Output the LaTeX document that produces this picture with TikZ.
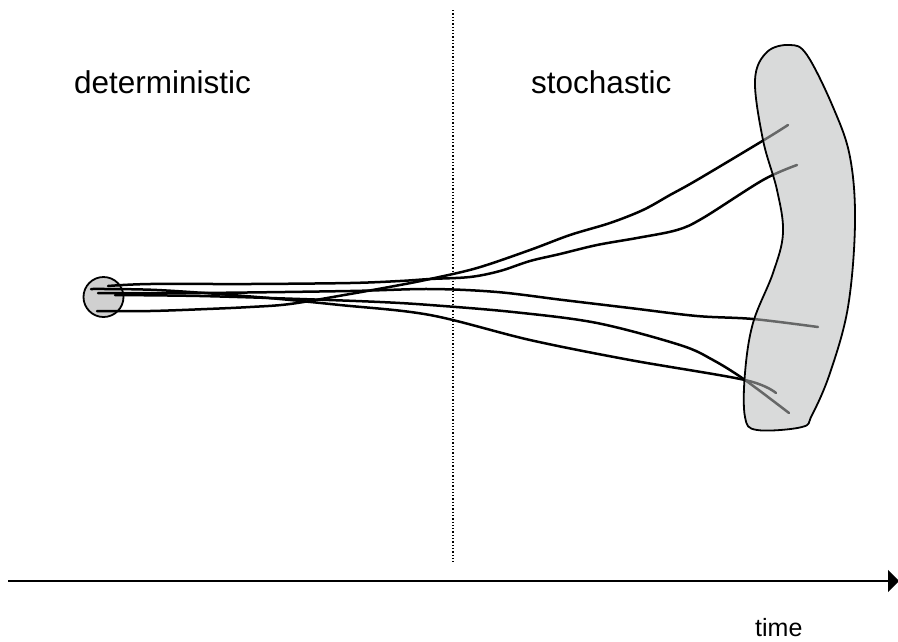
\documentclass[tikz,border=0pt]{standalone}
\usepackage{fontspec}
\setmainfont{Liberation Sans}
\usetikzlibrary{arrows.meta}
\definecolor{startfill}{RGB}{208,208,208}
\definecolor{regionfill}{RGB}{186,188,188}
\tikzset{
  label/.style={inner sep=0pt, anchor=base west, font=\fontsize{31.5}{36}\selectfont},
  trajectory/.style={line width=2.5pt, line join=round, line cap=round},
  outline/.style={line width=1.8pt, draw=black},
}
\begin{document}
\begin{tikzpicture}[x=1pt, y=-1pt]
  \useasboundingbox (0,0) rectangle (898,641);

  % regime boundary
  \draw[line width=1.3pt, dotted] (453,10) -- (453,562);

  % regime labels
  \node[label] (det) at (74,93) {deterministic};
  \node[label] (sto) at (531,93) {stochastic};

  % initial condition
  \node[circle, outline, fill=startfill, minimum size=40pt, inner sep=0pt] (start) at (103.5,297) {};

  % sample trajectories
  \draw[trajectory] plot[smooth, tension=0.55] coordinates {
    (97,311) (150,311) (207,309) (250,307) (290,304) (350,294) (400,285) (430,279)
    (477,268) (530,250) (570,235) (610,223) (643,210) (670,195) (697,180) (764,140) (788,125)};
  \draw[trajectory] plot[smooth, tension=0.55] coordinates {
    (108,286) (150,284) (250,284) (350,283) (400,281) (430,279)
    (470,277) (500,271) (530,261) (560,254) (597,245) (637,238) (677,230) (703,218) (763,180) (797,165)};
  \draw[trajectory] plot[smooth, tension=0.55] coordinates {
    (98,293) (200,293) (350,291) (430,289)
    (497,292) (563,300) (630,308) (697,316) (753,319) (818,327)};
  \draw[trajectory] plot[smooth, tension=0.55] coordinates {
    (115,295) (200,296) (300,299) (380,302) (430,305)
    (513,312) (597,323) (680,345) (713,360) (745,380) (789,413)};
  \draw[trajectory] plot[smooth, tension=0.55] coordinates {
    (91,289) (157,290) (257,297) (340,305) (430,315)
    (530,340) (630,360) (745,380) (776,393)};

  % final distribution (translucent, so trajectories show through)
  \draw[outline, fill=regionfill, fill opacity=0.55] plot[smooth cycle, tension=0.6] coordinates {
    (790,45) (807,55) (833,107) (850,157) (855,223) (848,307) (830,373)
    (812,415) (802,427) (757,430) (745,417) (745,373) (753,323) (773,273)
    (783,233) (777,190) (763,140) (755,80) (767,52)};

  % time axis
  \coordinate (t0) at (8,581);
  \coordinate (t1) at (899,581);
  \draw[line width=2pt, -{Triangle[length=11pt, width=22pt]}] (t0) -- (t1);
  \node[inner sep=0pt, anchor=base west, font=\fontsize{25}{30}\selectfont] (time) at (755,636) {time};
\end{tikzpicture}
\end{document}
